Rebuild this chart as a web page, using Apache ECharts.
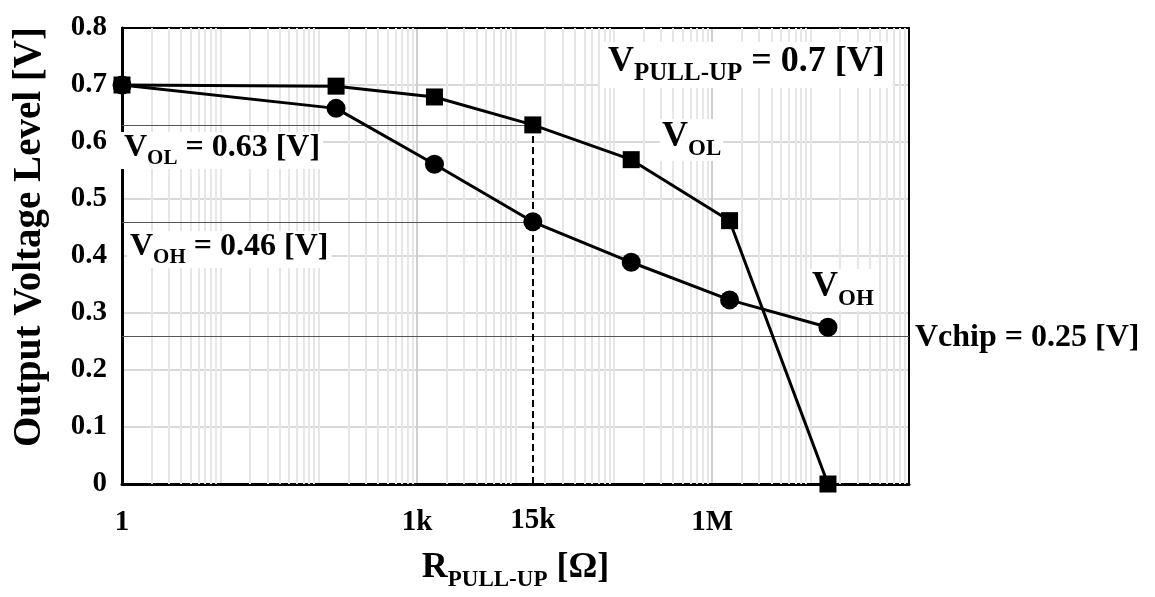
<!DOCTYPE html>
<html>
<head>
<meta charset="utf-8">
<script src="https://cdn.jsdelivr.net/npm/echarts@6/dist/echarts.min.js"></script>
<style>
html,body{margin:0;padding:0;background:#fff;}
#chart{width:1155px;height:597px;}
</style>
</head>
<body>
<div id="chart"></div>
<script>
// ---- data ----
var rPullUp = [1, 150, 1500, 15000, 150000, 1500000, 15000000];
var vOL = [0.700, 0.698, 0.679, 0.630, 0.569, 0.462, 0.000];
var vOH = [0.700, 0.659, 0.561, 0.460, 0.389, 0.323, 0.275];
var xTickValues = [1, 1000, 1000000];
var xTickLabels = ['1', '1k', '1M'];
var refR = 15000;
var refVOL = 0.63;
var refVOH = 0.46;
var refVchip = 0.255;
var minorMult = [2, 3, 4, 5, 6, 7, 8, 9];
var decades = [1, 10, 100, 1000, 10000, 100000, 1000000, 10000000];

var FONT = '"Liberation Serif", "Times New Roman", serif';

function pairs(xs, ys) { return xs.map(function (x, i) { return [x, ys[i]]; }); }

var minorLines = [];
decades.forEach(function (d) {
  minorMult.forEach(function (m) { minorLines.push({ xAxis: d * m }); });
});

function richText(fs, ss, lift) {
  return {
    m: { fontFamily: FONT, fontWeight: 'bold', fontSize: fs, color: '#000', verticalAlign: 'bottom', padding: [0, 0, lift, 0] },
    s: { fontFamily: FONT, fontWeight: 'bold', fontSize: ss, color: '#000', verticalAlign: 'bottom' }
  };
}

var chart = echarts.init(document.getElementById('chart'), null, { renderer: 'canvas' });
var option = {
  animation: false,
  backgroundColor: '#fff',
  grid: { left: 122, top: 28, width: 787, height: 456, containLabel: false, outerBoundsMode: 'none', show: false },
  xAxis: [{
    type: 'log', logBase: 10, min: 1, max: 100000000, splitNumber: 8,
    axisLine: { show: true, lineStyle: { color: '#000', width: 3 } },
    axisTick: { show: false },
    splitLine: { show: true, lineStyle: { color: ['#cfcfcf', '#e6e6e6', '#e6e6e6'], width: 2 } },
    axisLabel: {
      margin: 24, color: '#000', fontFamily: FONT, fontWeight: 'bold', fontSize: 29,
      formatter: function (v) {
        for (var i = 0; i < xTickValues.length; i++) {
          if (Math.abs(Math.log10(v) - Math.log10(xTickValues[i])) < 1e-6) return xTickLabels[i];
        }
        return '';
      }
    },
    name: '{m|R}{s|PULL-UP}{m| [Ω]}',
    nameLocation: 'middle', nameGap: 66,
    nameTextStyle: { rich: richText(36, 23, 6) }
  }, {
    type: 'log', logBase: 10, min: 1, max: 100000000, position: 'top',
    axisLine: { show: true, onZero: false, lineStyle: { color: '#000', width: 2 } },
    axisTick: { show: false }, axisLabel: { show: false }, splitLine: { show: false }
  }],
  yAxis: [{
    type: 'value', min: 0, max: 0.8, interval: 0.1,
    axisLine: { show: true, lineStyle: { color: '#000', width: 3 } },
    axisTick: { show: false },
    splitLine: { show: true, lineStyle: { color: '#d9d9d9', width: 2 } },
    axisLabel: { margin: 15, color: '#000', fontFamily: FONT, fontWeight: 'bold', fontSize: 29 },
    name: 'Output Voltage Level [V]',
    nameLocation: 'middle', nameGap: 73,
    nameTextStyle: { fontFamily: FONT, fontWeight: 'bold', fontSize: 39, color: '#000', padding: [0, 0, 0, 38] }
  }, {
    type: 'value', min: 0, max: 0.8, interval: 0.1, position: 'right',
    axisLine: { show: true, onZero: false, lineStyle: { color: '#000', width: 2 } },
    axisTick: { show: false }, axisLabel: { show: false }, splitLine: { show: false }
  }],
  graphic: {
    elements: [
      { type: 'text', x: 121, y: 132, z: 50, style: { text: '{m|V}{s|OL}{m| = 0.63 [V]}', rich: richText(32, 21, 5), backgroundColor: '#fff', padding: [0, 3, 0, 3] } },
      { type: 'text', x: 127, y: 231, z: 50, style: { text: '{m|V}{s|OH}{m| = 0.46 [V]}', rich: richText(32, 21, 5), backgroundColor: '#fff', padding: [0, 3, 0, 3] } },
      { type: 'text', x: 600, y: 42, z: 50, style: { text: '{m|V}{s|PULL-UP}{m| = 0.7 [V]}', rich: richText(36, 25, 6), backgroundColor: '#fff', padding: [2, 8, 2, 8] } },
      { type: 'text', x: 660, y: 119, z: 50, style: { text: '{m|V}{s|OL}', rich: richText(36, 23, 6), backgroundColor: '#fff', padding: [0, 2, 0, 2] } },
      { type: 'text', x: 810, y: 269, z: 50, style: { text: '{m|V}{s|OH}', rich: richText(36, 23, 6), backgroundColor: '#fff', padding: [0, 2, 0, 2] } },
      { type: 'text', x: 915, y: 322, z: 50, style: { text: 'Vchip = 0.25 [V]', fontFamily: FONT, fontWeight: 'bold', fontSize: 32, fill: '#000' } }
    ]
  },
  series: [
    {
      type: 'line', data: [], silent: true, z: 1,
      markLine: {
        silent: true, symbol: 'none', label: { show: false },
        lineStyle: { color: '#e6e6e6', width: 2, type: 'solid' },
        data: minorLines
      }
    },
    {
      type: 'line', data: [], silent: true, z: 3,
      markLine: {
        silent: true, symbol: 'none', animation: false,
        data: [
          [{ coord: [1, refVOL] }, { coord: [refR, refVOL] }],
          [{ coord: [1, refVOH] }, { coord: [refR, refVOH] }],
          { yAxis: refVchip }
        ],
        label: { show: false },
        lineStyle: { color: '#555', width: 1, type: 'solid' }
      }
    },
    {
      type: 'line', data: [], silent: true, z: 3,
      markLine: {
        silent: true, symbol: 'none',
        data: [[{ coord: [refR, 0] }, { coord: [refR, refVOL] }]],
        lineStyle: { color: '#000', width: 2, type: [7, 4] },
        label: {
          show: true, position: 'start', distance: 22, formatter: '15k',
          color: '#000', fontFamily: FONT, fontWeight: 'bold', fontSize: 29
        }
      }
    },
    {
      name: 'VOL', type: 'line', data: pairs(rPullUp, vOL), z: 100,
      symbol: 'rect', symbolSize: 17,
      lineStyle: { color: '#000', width: 3 }, itemStyle: { color: '#000' }
    },
    {
      name: 'VOH', type: 'line', data: pairs(rPullUp, vOH), z: 100,
      symbol: 'circle', symbolSize: 19,
      lineStyle: { color: '#000', width: 3 }, itemStyle: { color: '#000' }
    }
  ]
};
chart.setOption(option);
</script>
</body>
</html>
